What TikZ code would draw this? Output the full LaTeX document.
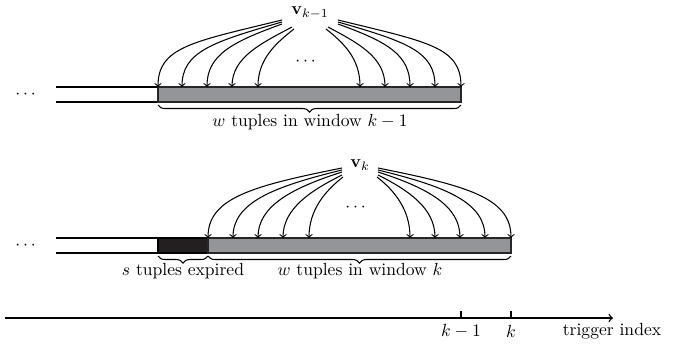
\documentclass[tikz,border=0pt]{standalone}
\usepackage{amsmath}
\usepackage{amssymb}
\usetikzlibrary{calc,decorations.pathreplacing}
\definecolor{wingray}{RGB}{148,149,152}
\definecolor{expblack}{RGB}{35,31,32}
\tikzset{
  fan/.style={->, line width=0.6pt},
  rail/.style={line width=1.1pt},
  winbar/.style={fill=wingray, draw=black!85, line width=0.8pt},
  expbar/.style={fill=expblack, draw=black, line width=0.8pt},
  brc/.style={decorate, decoration={brace, mirror, amplitude=4pt}, line width=0.6pt},
}
\begin{document}
\begin{tikzpicture}[x=0.02cm, y=-0.02cm]
    \useasboundingbox (0,0) rectangle (681,343);

    % window k-1
    \node (vprev) at (310,13) {$\mathbf{v}_{k-1}$};
    \node (dprev) at (27,95) {$\cdots$};
    \node (fprev) at (307,62) {$\cdots$};
    \draw[rail] (56,87) -- (158,87) (56,102) -- (158,102);
    \filldraw[winbar] (158,87) rectangle (461,102);
    \draw[brc] (158,105) -- (461,105);
    \node (lprev) at (310,122) {$w$ tuples in window $k-1$};
    \foreach \dx/\dy/\ex/\cx/\cy/\h in {-28/7/158/-90/22/40, -28/9/182/-70/20/35,
        -28/11/207/-50/18/32, -18/14/232/-30/16/30, -16/16/258/-18/14/28,
        28/7/461/90/22/40, 28/9/435/70/20/35, 28/11/410/50/18/32,
        18/14/385/30/16/30, 16/16/360/18/14/28}
      \draw[fan] ($(vprev)+(\dx,\dy)$) .. controls +(\cx,\cy) and +(0,-\h) .. (\ex,87);

    % window k
    \node (vcur) at (360,165) {$\mathbf{v}_k$};
    \node (dcur) at (27,246) {$\cdots$};
    \node (fcur) at (357,208) {$\cdots$};
    \draw[rail] (56,238) -- (158,238) (56,253) -- (158,253);
    \filldraw[expbar] (158,238) rectangle (208,253);
    \filldraw[winbar] (208,238) rectangle (511,253);
    \draw[brc] (158,256) -- (208,256);
    \draw[brc] (208,256) -- (511,256);
    \node (lexp) at (183,271) {$s$ tuples expired};
    \node (lcur) at (360,271) {$w$ tuples in window $k$};
    \foreach \dx/\dy/\ex/\cx/\cy/\h in {-18/3/208/-90/18/40, -18/5/233/-70/17/35,
        -18/7/258/-50/16/32, -18/10/283/-30/15/30, -17/12/309/-18/14/28,
        18/3/511/90/18/40, 18/5/485/70/17/35, 18/7/460/50/16/32,
        18/10/435/30/15/30, 17/12/410/18/14/28}
      \draw[fan] ($(vcur)+(\dx,\dy)$) .. controls +(\cx,\cy) and +(0,-\h) .. (\ex,238);

    % trigger axis
    \coordinate (ax0) at (5,318);
    \coordinate (ax1) at (613,318);
    \draw[->, line width=0.8pt] (ax0) -- (ax1);
    \draw[line width=0.6pt] (461,318) -- (461,311) (511,318) -- (511,311);
    \node (tprev) at (461,331) {$k-1$};
    \node (tcur) at (511,331) {$k$};
    \node (tlab) at (612,331) {trigger index};
\end{tikzpicture}
\end{document}
